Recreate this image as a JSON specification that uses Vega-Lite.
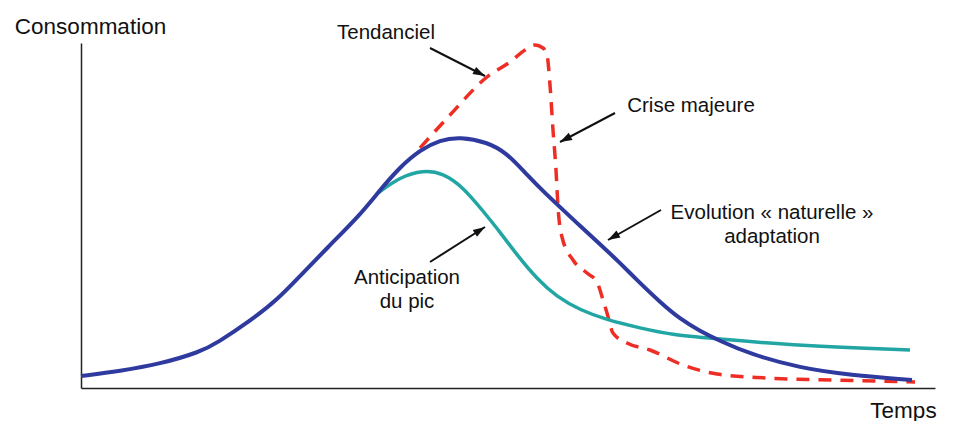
{
  "$schema": "https://vega.github.io/schema/vega-lite/v6.json",
  "width": 854,
  "height": 345,
  "autosize": {"type": "none"},
  "padding": {"left": 81, "top": 43, "right": 20, "bottom": 33},
  "background": "white",
  "config": {
    "view": {"stroke": null},
    "font": "Liberation Sans",
    "axis": {
      "domain": true, "ticks": false, "labels": false, "grid": false,
      "domainColor": "#222222", "domainWidth": 1.5,
      "titleFont": "Liberation Sans", "titleFontSize": 22.5, "titleFontWeight": "normal", "titleColor": "#111111"
    }
  },
  "datasets": {
    "curves": [
      {"serie": "Tendanciel", "t": 339, "c": 240},
      {"serie": "Tendanciel", "t": 369, "c": 273},
      {"serie": "Tendanciel", "t": 406, "c": 311},
      {"serie": "Tendanciel", "t": 429, "c": 326},
      {"serie": "Tendanciel", "t": 444, "c": 338},
      {"serie": "Tendanciel", "t": 454, "c": 343},
      {"serie": "Tendanciel", "t": 462, "c": 340},
      {"serie": "Tendanciel", "t": 466, "c": 333},
      {"serie": "Tendanciel", "t": 469, "c": 303},
      {"serie": "Tendanciel", "t": 472, "c": 258},
      {"serie": "Tendanciel", "t": 475, "c": 218},
      {"serie": "Tendanciel", "t": 477, "c": 181},
      {"serie": "Tendanciel", "t": 481, "c": 151},
      {"serie": "Tendanciel", "t": 492, "c": 128},
      {"serie": "Tendanciel", "t": 506, "c": 115},
      {"serie": "Tendanciel", "t": 516, "c": 106},
      {"serie": "Tendanciel", "t": 522, "c": 88},
      {"serie": "Tendanciel", "t": 526, "c": 75},
      {"serie": "Tendanciel", "t": 532, "c": 55},
      {"serie": "Tendanciel", "t": 546, "c": 45},
      {"serie": "Tendanciel", "t": 569, "c": 38},
      {"serie": "Tendanciel", "t": 602, "c": 23},
      {"serie": "Tendanciel", "t": 636, "c": 14},
      {"serie": "Tendanciel", "t": 686, "c": 10},
      {"serie": "Tendanciel", "t": 752, "c": 8},
      {"serie": "Tendanciel", "t": 834, "c": 6},

      {"serie": "Anticipation", "t": 297, "c": 195},
      {"serie": "Anticipation", "t": 319, "c": 211},
      {"serie": "Anticipation", "t": 342, "c": 218},
      {"serie": "Anticipation", "t": 362, "c": 215},
      {"serie": "Anticipation", "t": 382, "c": 201},
      {"serie": "Anticipation", "t": 402, "c": 177},
      {"serie": "Anticipation", "t": 419, "c": 156},
      {"serie": "Anticipation", "t": 436, "c": 133},
      {"serie": "Anticipation", "t": 456, "c": 109},
      {"serie": "Anticipation", "t": 476, "c": 91},
      {"serie": "Anticipation", "t": 499, "c": 78},
      {"serie": "Anticipation", "t": 526, "c": 68},
      {"serie": "Anticipation", "t": 559, "c": 60},
      {"serie": "Anticipation", "t": 592, "c": 53},
      {"serie": "Anticipation", "t": 626, "c": 50},
      {"serie": "Anticipation", "t": 719, "c": 42},
      {"serie": "Anticipation", "t": 829, "c": 38},

      {"serie": "Naturelle", "t": 0, "c": 12},
      {"serie": "Naturelle", "t": 39, "c": 17},
      {"serie": "Naturelle", "t": 79, "c": 24},
      {"serie": "Naturelle", "t": 119, "c": 36},
      {"serie": "Naturelle", "t": 136, "c": 45},
      {"serie": "Naturelle", "t": 169, "c": 67},
      {"serie": "Naturelle", "t": 196, "c": 88},
      {"serie": "Naturelle", "t": 219, "c": 112},
      {"serie": "Naturelle", "t": 249, "c": 143},
      {"serie": "Naturelle", "t": 279, "c": 173},
      {"serie": "Naturelle", "t": 299, "c": 198},
      {"serie": "Naturelle", "t": 319, "c": 221},
      {"serie": "Naturelle", "t": 339, "c": 238},
      {"serie": "Naturelle", "t": 359, "c": 248},
      {"serie": "Naturelle", "t": 379, "c": 251},
      {"serie": "Naturelle", "t": 406, "c": 246},
      {"serie": "Naturelle", "t": 426, "c": 235},
      {"serie": "Naturelle", "t": 446, "c": 213},
      {"serie": "Naturelle", "t": 466, "c": 193},
      {"serie": "Naturelle", "t": 479, "c": 181},
      {"serie": "Naturelle", "t": 499, "c": 162},
      {"serie": "Naturelle", "t": 519, "c": 144},
      {"serie": "Naturelle", "t": 539, "c": 125},
      {"serie": "Naturelle", "t": 559, "c": 105},
      {"serie": "Naturelle", "t": 579, "c": 86},
      {"serie": "Naturelle", "t": 599, "c": 69},
      {"serie": "Naturelle", "t": 619, "c": 57},
      {"serie": "Naturelle", "t": 639, "c": 47},
      {"serie": "Naturelle", "t": 669, "c": 34},
      {"serie": "Naturelle", "t": 719, "c": 20},
      {"serie": "Naturelle", "t": 769, "c": 13},
      {"serie": "Naturelle", "t": 831, "c": 8}
    ],
    "labels": [
      {"text": "Tendanciel", "t": 305, "c": 355},
      {"text": "Crise majeure", "t": 610, "c": 282},
      {"text": "Evolution « naturelle »", "t": 691, "c": 175},
      {"text": "adaptation", "t": 691, "c": 151},
      {"text": "Anticipation", "t": 326, "c": 110},
      {"text": "du pic", "t": 326, "c": 86}
    ],
    "arrows": [
      {"t": 349, "c": 340, "t2": 404, "c2": 312},
      {"t": 534, "c": 275, "t2": 479, "c2": 246},
      {"t": 580, "c": 178, "t2": 527, "c2": 148},
      {"t": 349, "c": 126, "t2": 404, "c2": 161}
    ]
  },
  "layer": [
    {
      "data": {"name": "curves"},
      "transform": [{"filter": "datum.serie === 'Tendanciel'"}],
      "mark": {"type": "line", "interpolate": "monotone", "color": "#EE2E24", "strokeWidth": 3.5, "strokeDash": [13, 9]},
      "encoding": {
        "x": {"field": "t", "type": "quantitative", "scale": {"domain": [0, 854], "nice": false, "zero": false},
              "axis": {"title": "Temps", "titleAlign": "center", "titleBaseline": "alphabetic", "titleX": 822, "titleY": 29}},
        "y": {"field": "c", "type": "quantitative", "scale": {"domain": [0, 345], "nice": false, "zero": false},
              "axis": {"title": "Consommation", "titleAngle": 0, "titleAlign": "center", "titleBaseline": "alphabetic", "titleX": 9, "titleY": -10}}
      }
    },
    {
      "data": {"name": "curves"},
      "transform": [{"filter": "datum.serie === 'Anticipation'"}],
      "mark": {"type": "line", "interpolate": "basis", "color": "#21A6A4", "strokeWidth": 3.5},
      "encoding": {
        "x": {"field": "t", "type": "quantitative"},
        "y": {"field": "c", "type": "quantitative"}
      }
    },
    {
      "data": {"name": "curves"},
      "transform": [{"filter": "datum.serie === 'Naturelle'"}],
      "mark": {"type": "line", "interpolate": "basis", "color": "#2E3A9E", "strokeWidth": 4},
      "encoding": {
        "x": {"field": "t", "type": "quantitative"},
        "y": {"field": "c", "type": "quantitative"}
      }
    },
    {
      "data": {"name": "arrows"},
      "mark": {"type": "rule", "color": "#111111", "strokeWidth": 2},
      "encoding": {
        "x": {"field": "t", "type": "quantitative"},
        "y": {"field": "c", "type": "quantitative"},
        "x2": {"field": "t2"},
        "y2": {"field": "c2"}
      }
    },
    {
      "data": {"name": "arrows"},
      "transform": [{"calculate": "atan2(datum.t2 - datum.t, datum.c2 - datum.c) * 180 / PI", "as": "ang"}],
      "mark": {"type": "point", "shape": "M0,0L0.8,2.4L-0.8,2.4Z", "filled": true, "color": "#111111", "opacity": 1, "size": 100, "strokeWidth": 0},
      "encoding": {
        "x": {"field": "t2", "type": "quantitative"},
        "y": {"field": "c2", "type": "quantitative"},
        "angle": {"field": "ang", "type": "quantitative", "scale": null}
      }
    },
    {
      "data": {"name": "labels"},
      "mark": {"type": "text", "font": "Liberation Sans", "fontSize": 20.5, "color": "#111111", "align": "center", "baseline": "middle"},
      "encoding": {
        "x": {"field": "t", "type": "quantitative"},
        "y": {"field": "c", "type": "quantitative"},
        "text": {"field": "text"}
      }
    }
  ]
}
